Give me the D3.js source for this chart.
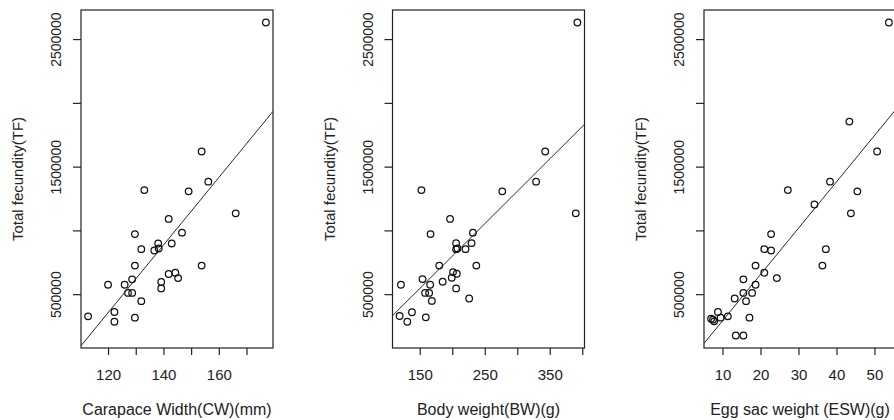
<!DOCTYPE html>
<html>
<head>
<meta charset="utf-8">
<script src="https://cdn.jsdelivr.net/npm/d3@7"></script>
<style>
  html, body { margin: 0; padding: 0; background: #fff; }
  svg { display: block; font-family: "Liberation Sans", Arial, sans-serif; }
</style>
</head>
<body>
<svg id="chart" width="894" height="420"></svg>
<script>
// Carapace width (mm) vs total fecundity
const carapaceWidth = [177.0, 153.8, 156.2, 133.1, 149.1, 166.1, 141.9, 146.7, 129.7, 138.1, 143.0,
  132.0, 136.7, 138.3, 129.7, 153.8, 144.3, 141.9, 145.3, 128.7, 120.0, 126.0, 139.2, 139.2,
  127.2, 128.7, 132.0, 112.8, 122.3, 122.3, 129.7];
const fecundityCW = [2630000, 1619000, 1382000, 1316000, 1306000, 1134000, 1090000, 982000, 971000,
  897000, 897000, 853000, 842000, 858000, 724000, 724000, 668000, 658000, 626000, 616000, 574000,
  574000, 595000, 545000, 510000, 510000, 445000, 326000, 360000, 284000, 316000];

// Body weight (g) vs total fecundity
const bodyWeight = [392.5, 343.0, 329.0, 152.6, 276.9, 390.0, 196.6, 231.8, 166.6, 205.9, 229.7,
  205.9, 208.0, 220.4, 180.0, 237.0, 201.2, 207.0, 199.2, 154.2, 121.0, 166.0, 185.2, 205.9,
  158.2, 164.4, 168.6, 226.0, 119.0, 138.0, 130.8, 159.3];
const fecundityBW = [2630000, 1619000, 1382000, 1316000, 1306000, 1134000, 1090000, 982000, 971000,
  900000, 900000, 853000, 858000, 853000, 724000, 724000, 673000, 660000, 629000, 618000, 574000,
  574000, 597000, 545000, 510000, 510000, 447000, 466000, 329000, 358000, 284000, 318000];

// Egg sac weight (g) vs total fecundity
const eggSacWeight = [53.8, 43.4, 50.7, 38.3, 27.2, 45.5, 34.2, 43.8, 22.8, 21.0, 22.8, 37.2, 18.7,
  36.3, 21.0, 24.3, 15.5, 18.7, 17.8, 15.5, 13.2, 16.2, 8.8, 11.4, 9.5, 7.0, 7.8, 17.1, 13.5,
  15.5, 7.5];
const fecundityESW = [2630000, 1853000, 1619000, 1382000, 1316000, 1306000, 1203000, 1134000, 971000,
  853000, 842000, 853000, 724000, 724000, 668000, 626000, 616000, 574000, 510000, 510000, 466000,
  445000, 360000, 326000, 316000, 308000, 287000, 316000, 176000, 176000, 300000];

// Fitted linear regressions: [intercept, slope]
const fitCW = [-2827000, 26510];
const fitBW = [-218000, 5081];
const fitESW = [-72400, 36325];

// Axis ticks and their printed labels (blank where labels would collide)
const fecundityTicks = [500000, 1000000, 1500000, 2000000, 2500000];
const fecundityTickLabels = ["500000", "", "1500000", "", "2500000"];
const cwTicks = [120, 130, 140, 150, 160, 170];
const cwTickLabels = ["120", "", "140", "", "160", ""];
const bwTicks = [150, 200, 250, 300, 350, 400];
const bwTickLabels = ["150", "", "250", "", "350", ""];
const eswTicks = [10, 20, 30, 40, 50];
const eswTickLabels = ["10", "20", "30", "40", "50"];

const xTitles = ["Carapace Width(CW)(mm)", "Body weight(BW)(g)", "Egg sac weight (ESW)(g)"];
const yTitle = "Total fecundity(TF)";

// ---- layout ----
const svg = d3.select("#chart");
const plotTop = 10, plotBottom = 348, plotWidth = 192;
const panelLefts = [81, 392.5, 704];
const ink = "#222";

// Extend a range by 4% on each side
const pad4 = ([a, b]) => [a - (b - a) * 0.04, b + (b - a) * 0.04];

const allFecundity = fecundityCW.concat(fecundityBW, fecundityESW);
const yDomain = pad4(d3.extent(allFecundity));

const panels = [
  { xs: carapaceWidth, ys: fecundityCW, fit: fitCW, ticks: cwTicks, tickLabels: cwTickLabels, title: xTitles[0] },
  { xs: bodyWeight, ys: fecundityBW, fit: fitBW, ticks: bwTicks, tickLabels: bwTickLabels, title: xTitles[1] },
  { xs: eggSacWeight, ys: fecundityESW, fit: fitESW, ticks: eswTicks, tickLabels: eswTickLabels, title: xTitles[2] }
];

panels.forEach((p, i) => {
  const left = panelLefts[i];
  const right = left + plotWidth;
  const g = svg.append("g");

  const x = d3.scaleLinear().domain(pad4(d3.extent(p.xs))).range([left, right]);
  const y = d3.scaleLinear().domain(yDomain).range([plotBottom, plotTop]);

  const clipId = "clip" + i;
  svg.append("clipPath").attr("id", clipId)
    .append("rect")
    .attr("x", left).attr("y", plotTop)
    .attr("width", plotWidth).attr("height", plotBottom - plotTop);

  // regression line across the plotting region
  const [a, b] = p.fit;
  const xd = x.domain();
  const line = d3.line().x(d => x(d)).y(d => y(a + b * d));
  g.append("path")
    .attr("clip-path", `url(#${clipId})`)
    .attr("d", line(xd))
    .attr("fill", "none")
    .attr("stroke", "#111")
    .attr("stroke-width", 0.9);

  // observations
  g.append("g")
    .attr("clip-path", `url(#${clipId})`)
    .selectAll("circle")
    .data(p.xs.map((v, k) => [v, p.ys[k]]))
    .join("circle")
    .attr("cx", d => x(d[0]))
    .attr("cy", d => y(d[1]))
    .attr("r", 3.3)
    .attr("fill", "none")
    .attr("stroke", "#111")
    .attr("stroke-width", 1.25);

  // frame
  g.append("rect")
    .attr("x", left).attr("y", plotTop)
    .attr("width", plotWidth).attr("height", plotBottom - plotTop)
    .attr("fill", "none")
    .attr("stroke", "#222")
    .attr("stroke-width", 1.2);

  // x axis
  const xAxis = g.append("g")
    .attr("transform", `translate(0,${plotBottom})`)
    .call(d3.axisBottom(x)
      .tickValues(p.ticks)
      .tickFormat((d, k) => p.tickLabels[k])
      .tickSize(7)
      .tickSizeOuter(0));
  xAxis.select(".domain").remove();
  xAxis.selectAll(".tick line").attr("stroke", "#222").attr("stroke-width", 1.2);
  xAxis.selectAll(".tick text")
    .attr("y", 32).attr("dy", 0)
    .attr("fill", ink)
    .style("font-size", "15px");

  // y axis
  const yAxis = g.append("g")
    .attr("transform", `translate(${left},0)`)
    .call(d3.axisLeft(y)
      .tickValues(fecundityTicks)
      .tickFormat((d, k) => fecundityTickLabels[k])
      .tickSize(8)
      .tickSizeOuter(0));
  yAxis.select(".domain").remove();
  yAxis.selectAll(".tick line").attr("stroke", "#222").attr("stroke-width", 1.2);
  yAxis.selectAll(".tick text")
    .attr("transform", "rotate(-90)")
    .attr("x", 0).attr("y", -20).attr("dy", 0)
    .attr("text-anchor", "middle")
    .attr("fill", ink)
    .style("font-size", "14px");

  // axis titles
  g.append("text")
    .attr("x", (left + right) / 2)
    .attr("y", plotBottom + 67)
    .attr("text-anchor", "middle")
    .attr("fill", ink)
    .style("font-size", "16px")
    .text(p.title);

  g.append("text")
    .attr("transform", `translate(${left - 58},${(plotTop + plotBottom) / 2}) rotate(-90)`)
    .attr("text-anchor", "middle")
    .attr("fill", ink)
    .style("font-size", "15px")
    .text(yTitle);
});
</script>
</body>
</html>
